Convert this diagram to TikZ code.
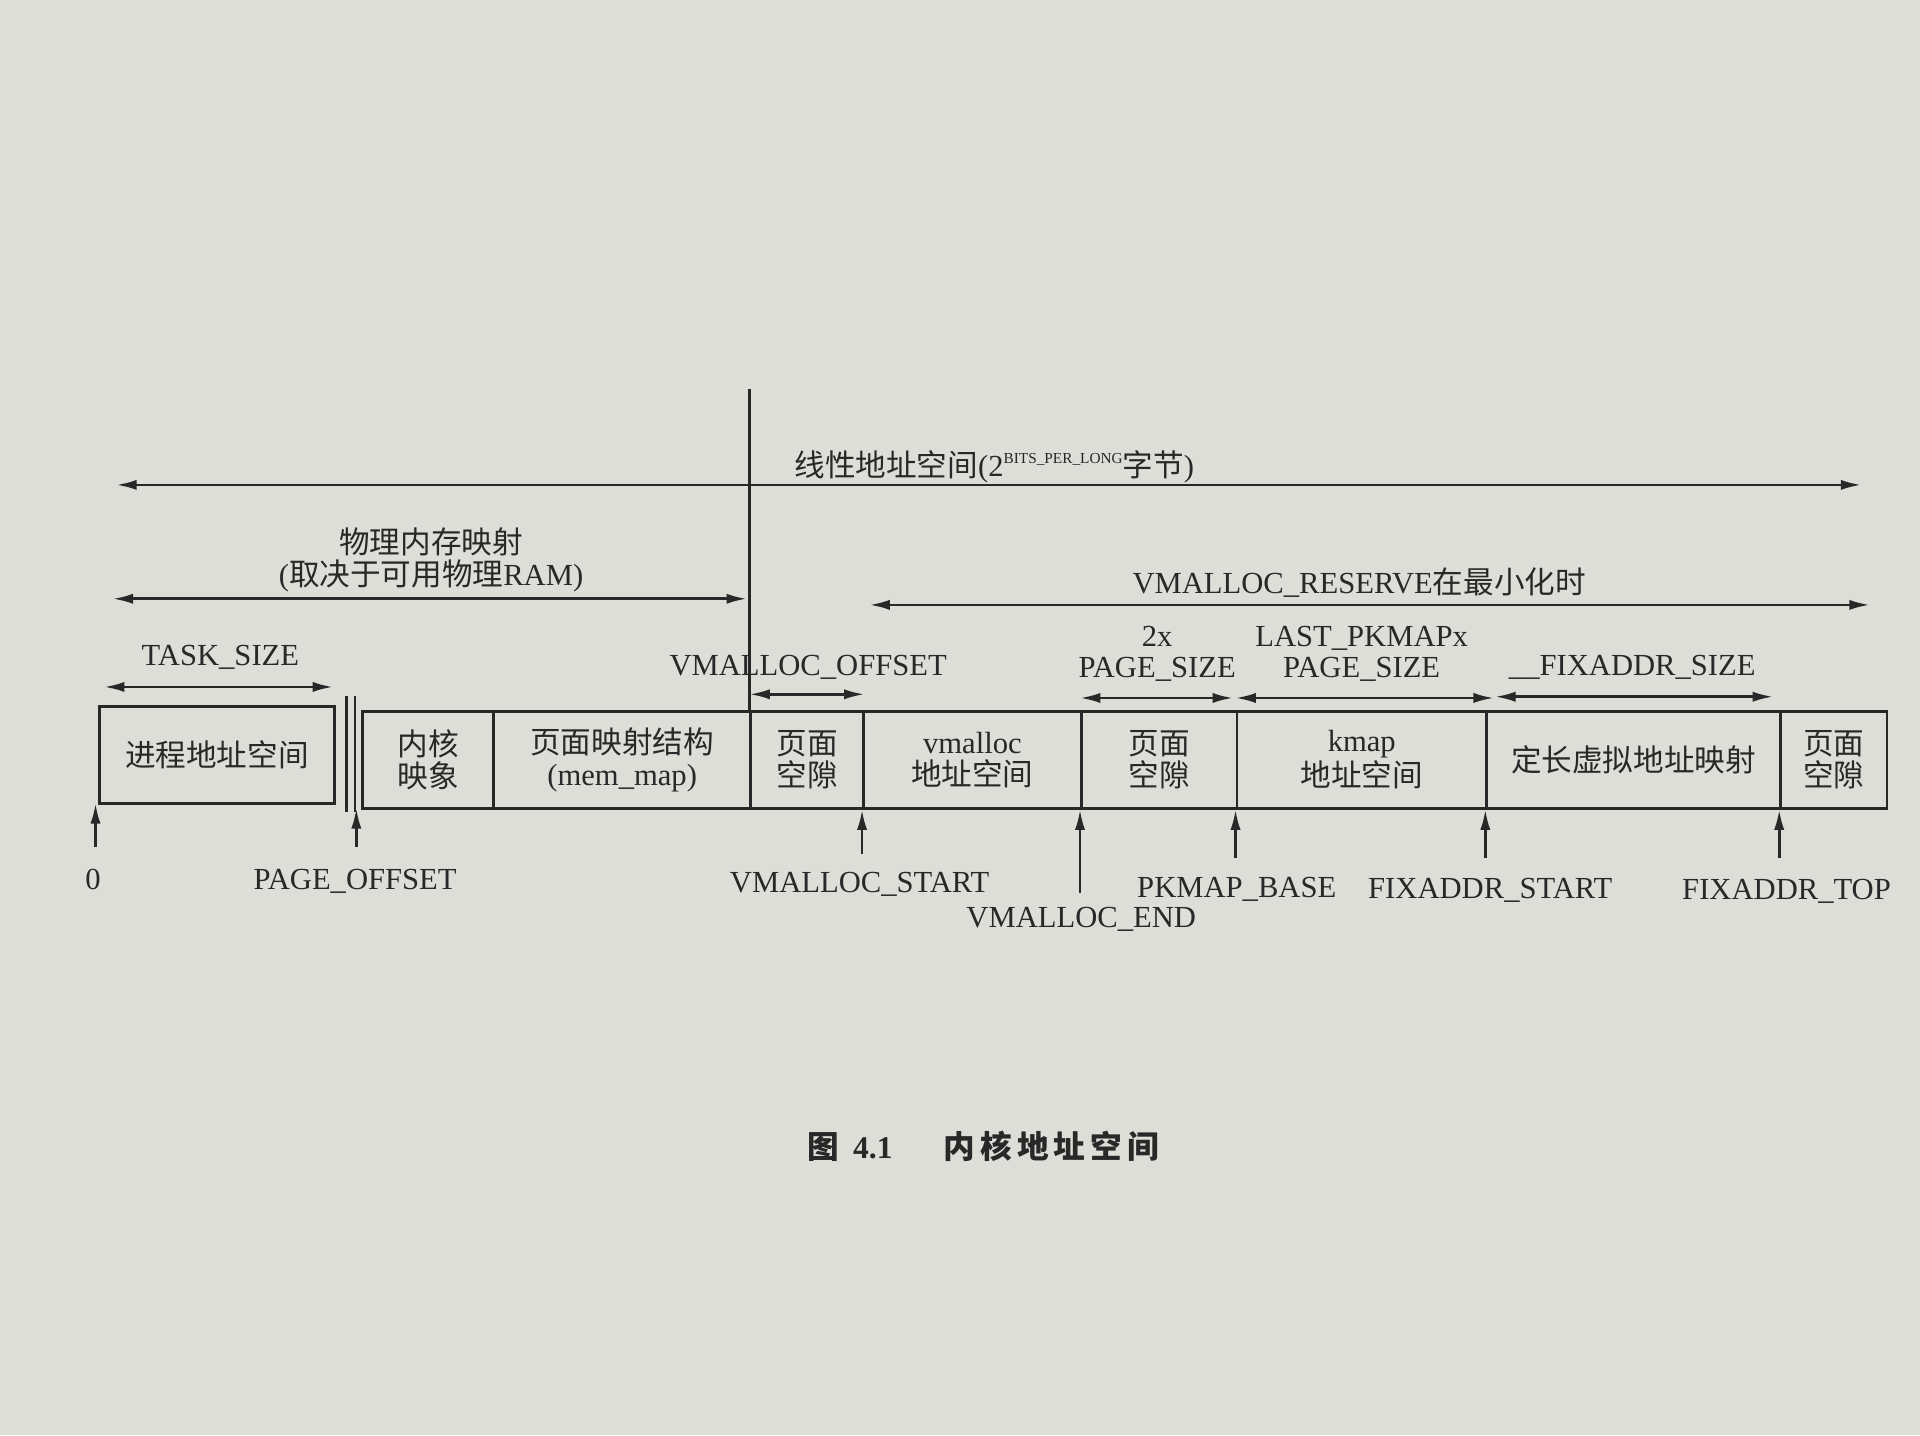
\documentclass[tikz,border=0pt]{standalone}
\usepackage{fontspec}
\setmainfont{Liberation Serif}
\newfontfamily\cjk{Noto Sans CJK SC}
\usetikzlibrary{arrows.meta}
\definecolor{paper}{RGB}{221,222,216}
\definecolor{ink}{RGB}{40,40,40}
\begin{document}
\begin{tikzpicture}[x=0.6pt,y=-0.6pt,
  font=\fontsize{15}{15.5}\selectfont,
  every node/.style={text=ink, inner sep=0pt},
  dim/.style={draw=ink, line width=1.3pt, {Latex[length=10pt,width=5pt]}-{Latex[length=10pt,width=5pt]}},
  uparrow/.style={draw=ink, line width=1.3pt, -{Latex[length=10pt,width=5pt]}},
  plain/.style={draw=ink, line width=1.3pt},
  cell/.style={draw=ink, line width=1.3pt, minimum height=47.4pt, align=center, anchor=west},
  lbl/.style={align=center}]
\fill[paper] (0,0) rectangle (1568,1172);
\useasboundingbox (0,0) rectangle (1568,1172);

% cells
\node[cell, minimum width=115.2pt] (c0) at (80,616.5) {\cjk 进程地址空间};
\node[cell, minimum width=64.2pt]  (c1) at (295,620.5) {\cjk 内核\\\cjk 映象};
\node[cell, minimum width=126pt]   (c2) at (402,620.5) {\cjk 页面映射结构\\(mem\_map)};
\node[cell, minimum width=55.2pt]  (c3) at (612,620.5) {\cjk 页面\\\cjk 空隙};
\node[cell, minimum width=106.8pt] (c4) at (704,620.5) {vmalloc\\\cjk 地址空间};
\node[cell, minimum width=76.2pt]  (c5) at (882,620.5) {\cjk 页面\\\cjk 空隙};
\node[cell, minimum width=122.4pt] (c6) at (1009,620.5) {kmap\\\cjk 地址空间};
\node[cell, minimum width=144pt]   (c7) at (1213,620.5) {\cjk 定长虚拟地址映射};
\node[cell, minimum width=52.2pt]  (c8) at (1453,620.5) {\cjk 页面\\\cjk 空隙};

% break marks
\coordinate (b1t) at (283,568); \coordinate (b1b) at (283,663);
\coordinate (b2t) at (290,568); \coordinate (b2b) at (290,663);
\draw[plain] (b1t) -- (b1b);
\draw[plain] (b2t) -- (b2b);

% tall vertical line
\coordinate (vtop) at (612,318);
\draw[plain] (vtop) -- (c3.north west);

% linear address space
\coordinate (la) at (95,396); \coordinate (lb) at (1520,396);
\draw[dim] (la) -- (lb);
\node (tlin) at (812,381) {{\cjk 线性地址空间}(2\raisebox{6pt}{\fontsize{7.5}{8}\selectfont BITS\_PER\_LONG}{\cjk 字节})};

% physical memory mapping
\coordinate (pa) at (92,489); \coordinate (pb) at (610,489);
\draw[dim] (pa) -- (pb);
\node[lbl] (tphys) at (352,457) {\cjk 物理内存映射\\({\cjk 取决于可用物理}RAM)};

% vmalloc reserve
\coordinate (ra) at (710,494); \coordinate (rb) at (1527,494);
\draw[dim] (ra) -- (rb);
\node (tres) at (1110,476) {VMALLOC\_RESERVE{\cjk 在最小化时}};

% task size
\coordinate (ta) at (85,561); \coordinate (tb) at (272,561);
\draw[dim] (ta) -- (tb);
\node (ttask) at (180,537) {TASK\_SIZE};

% vmalloc offset
\coordinate (oa) at (612,567); \coordinate (ob) at (706,567);
\draw[dim] (oa) -- (ob);
\node (toff) at (660,545) {VMALLOC\_OFFSET};

% 2x page size
\coordinate (sa) at (882,570); \coordinate (sb) at (1007,570);
\draw[dim] (sa) -- (sb);
\node[lbl] (tps) at (945,534) {2x\\PAGE\_SIZE};

% last pkmap
\coordinate (ka) at (1009,570); \coordinate (kb) at (1220,570);
\draw[dim] (ka) -- (kb);
\node[lbl] (tpk) at (1112,534) {LAST\_PKMAPx\\PAGE\_SIZE};

% fixaddr size
\coordinate (fa) at (1221,569); \coordinate (fb) at (1448,569);
\draw[dim] (fa) -- (fb);
\node (tfix) at (1333,545) {\_\_FIXADDR\_SIZE};

% bottom pointers
\coordinate (p0) at (78,692);   \coordinate (h0) at (78,656);
\coordinate (p1) at (291,692);  \coordinate (h1) at (291,660);
\draw[uparrow] (p0) -- (h0);
\draw[uparrow] (p1) -- (h1);
\draw[uparrow] ([yshift=-21.6pt]c4.south west) -- (c4.south west);
\draw[uparrow] ([yshift=-40.8pt]c5.south west) -- (c5.south west);
\draw[uparrow] ([yshift=-24pt]c6.south west) -- (c6.south west);
\draw[uparrow] ([yshift=-24pt]c7.south west) -- (c7.south west);
\draw[uparrow] ([yshift=-24pt]c8.south west) -- (c8.south west);

\node (n0) at (76,718) {0};
\node (n1) at (290,720) {PAGE\_OFFSET};
\node (n2) at (702,722) {VMALLOC\_START};
\node (n3) at (883,751) {VMALLOC\_END};
\node (n4) at (1010,726) {PKMAP\_BASE};
\node (n5) at (1217,727) {FIXADDR\_START};
\node (n6) at (1459,728) {FIXADDR\_TOP};

% caption
\node (cap) at (803,936) {\fontsize{15.5}{16}\selectfont{\cjk\bfseries 图}\hspace{0.45em}\textbf{4.1}\hspace{1.6em}{\cjk\bfseries 内\,核\,地\,址\,空\,间}};
\end{tikzpicture}
\end{document}
